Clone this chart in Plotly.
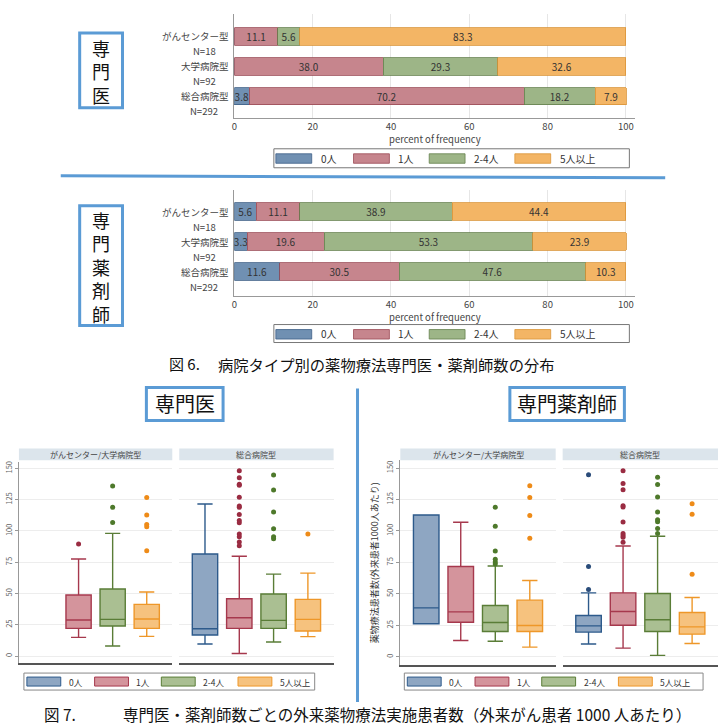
import plotly.graph_objects as go

W, H = 718, 726
FONT = "Noto Sans CJK JP"

# ---------------- data ----------------
categories = ["0人", "1人", "2-4人", "5人以上"]
hospital_types = ["がんセンター型", "大学病院型", "総合病院型"]
n_labels = ["N=18", "N=92", "N=292"]
x_ticks = [0, 20, 40, 60, 80, 100]
y_ticks = [0, 25, 50, 75, 100, 125, 150]
panel_titles = ["がんセンター/大学病院型", "総合病院型"]

# Fig 6 top: 専門医 (percent)
doc_0 = [0.0, 0.0, 3.8]
doc_1 = [11.1, 38.0, 70.2]
doc_24 = [5.6, 29.3, 18.2]
doc_5 = [83.3, 32.6, 7.9]
# Fig 6 bottom: 専門薬剤師 (percent)
ph_0 = [5.6, 3.3, 11.6]
ph_1 = [11.1, 19.6, 30.5]
ph_24 = [38.9, 53.3, 47.6]
ph_5 = [44.4, 23.9, 10.3]

# Fig 7 left: 専門医, がんセンター/大学病院型
doc_cu_low = [None, 14.9, 8.0, 15.7]
doc_cu_q1 = [None, 22.1, 24.0, 22.1]
doc_cu_med = [None, 28.8, 29.3, 29.6]
doc_cu_q3 = [None, 48.8, 53.6, 41.3]
doc_cu_high = [None, 77.5, 98.0, 51.2]
doc_cu_out = [[], [89.5], [135.9, 118.8, 106.8], [126.6, 112.7, 105.2, 103.4, 84.2]]
# Fig 7 left: 専門医, 総合病院型
doc_g_low = [9.6, 2.1, 11.2, 15.5]
doc_g_q1 = [16.8, 22.1, 22.1, 20.0]
doc_g_med = [21.8, 30.6, 28.5, 29.3]
doc_g_q3 = [81.5, 45.8, 49.6, 45.3]
doc_g_high = [121.5, 79.7, 65.5, 66.3]
doc_g_out = [[],
             [148.1, 142.5, 137.2, 136.4, 126.8, 119.9, 118.8, 113.2, 108.4, 106.6, 97.5, 95.4, 91.1, 88.2],
             [144.7, 132.7, 115.1, 101.8, 95.4, 93.8],
             [97.5]]
# Fig 7 right: 専門薬剤師, がんセンター/大学病院型
ph_cu_low = [26.2, 13.0, 12.4, 7.7]
ph_cu_q1 = [26.2, 27.5, 20.1, 20.1]
ph_cu_med = [38.9, 35.7, 27.2, 24.9]
ph_cu_q3 = [112.7, 71.7, 40.7, 45.0]
ph_cu_high = [112.7, 106.9, 72.2, 60.6]
ph_cu_out = [[], [], [118.8, 103.7, 84.1, 77.5, 75.4, 73.8], [136.0, 126.5, 112.2, 94.2]]
# Fig 7 right: 専門薬剤師, 総合病院型
ph_g_low = [10.1, 6.9, 1.1, 10.6]
ph_g_q1 = [19.6, 25.1, 20.1, 18.0]
ph_g_med = [24.6, 36.0, 29.4, 23.8]
ph_g_q3 = [32.8, 50.8, 50.3, 35.2]
ph_g_high = [50.8, 88.1, 95.8, 47.1]
ph_g_out = [[144.7, 71.7, 53.4],
            [147.9, 137.8, 132.8, 120.1, 119.0, 107.1, 97.9, 96.3, 95.0, 91.0],
            [142.6, 137.0, 127.0, 115.1, 109.0, 107.4, 101.9, 97.9],
            [121.7, 113.2, 65.6]]

# ---------------- styles ----------------
bar_colors = ["#7090b2", "#c6858d", "#9db587", "#f3b565"]
bar_lines = ["#3d5f86", "#9a4a55", "#64804c", "#d99437"]
box_fill = ["#8ea6c2", "#d4949c", "#aabf92", "#f6c27e"]
box_line = ["#2d5a8b", "#a6384d", "#5a7d37", "#ee9729"]
out_color = ["#2a4c7a", "#9a2c42", "#4e792b", "#ee8b18"]
BLUE = "#5b9bd5"


def px(x):
    return x / W


def py(y):
    return 1 - y / H


def note(x, y, text, size, color="#333", xanchor="center", yref="paper", yshift=0, **kw):
    d = dict(x=x, xref="paper", y=y, yref=yref, text=text, showarrow=False,
             xanchor=xanchor, yanchor="middle", yshift=yshift,
             font=dict(size=size, color=color, family=FONT))
    d.update(kw)
    return d


fig = go.Figure()
shapes = []
annotations = []

# ---------------- Fig 6 bar charts ----------------
bar_sets = [
    ("x", "y", [doc_0, doc_1, doc_24, doc_5]),
    ("x2", "y2", [ph_0, ph_1, ph_24, ph_5]),
]
for xa, ya, series in bar_sets:
    for i, vals in enumerate(series):
        fig.add_trace(go.Bar(
            x=vals, y=hospital_types, orientation="h",
            marker=dict(color=bar_colors[i], line=dict(color=bar_lines[i], width=0.8)),
            text=[f"{v:.1f}" if v > 0 else "" for v in vals],
            textposition="inside", insidetextanchor="middle", textangle=0,
            textfont=dict(size=10, color="#333", family=FONT),
            showlegend=False, hoverinfo="skip", xaxis=xa, yaxis=ya,
        ))

bar_x_dom = [px(232.3), px(635)]
bar_axes = {
    "1": dict(ytop=13, ybot=117, rng=[2.72, -0.75]),
    "2": dict(ytop=189, ybot=295, rng=[2.8, -0.73]),
}
layout_axes = {}
for k, a in bar_axes.items():
    sfx = "" if k == "1" else k
    layout_axes["xaxis" + sfx] = dict(
        domain=bar_x_dom, anchor="y" + sfx, range=[0, 102.4],
        tickvals=x_ticks, showgrid=True, gridcolor="#e6e6e6", zeroline=False,
        showline=True, linecolor="#999", linewidth=1, ticks="", ticklabelstandoff=0,
        tickfont=dict(size=9.5, color="#444", family=FONT),
    )
    layout_axes["yaxis" + sfx] = dict(
        domain=[py(a["ybot"]), py(a["ytop"])], anchor="x" + sfx, type="category",
        range=a["rng"], showticklabels=False, showgrid=False, zeroline=False,
        showline=True, linecolor="#999", linewidth=1,
    )
    for j, ht in enumerate(hospital_types):
        annotations.append(note(px(229), ht, ht, 9.5, "#444", "right", yref="y" + sfx))
        annotations.append(note(px(202), ht, n_labels[j], 9.5, "#444", "center",
                                yref="y" + sfx, yshift=-15))
    annotations.append(note((bar_x_dom[0] + bar_x_dom[1]) / 2, py(a["ybot"] + 21.5),
                            "percent of frequency", 9.5, "#444", borderpad=0))

# top legends (Fig 6)
for (ytop, ybot) in [(148, 167), (324, 342)]:
    shapes.append(dict(type="rect", xref="paper", yref="paper", layer="below",
                       x0=px(272), x1=px(629), y0=py(ybot), y1=py(ytop),
                       line=dict(color="#777", width=1), fillcolor="white"))
    sw_x = [274, 352, 428, 514]
    for i, c in enumerate(categories):
        shapes.append(dict(type="rect", xref="paper", yref="paper",
                           x0=px(sw_x[i]), x1=px(sw_x[i] + 36),
                           y0=py(ytop + 14.5), y1=py(ytop + 5),
                           fillcolor=bar_colors[i], line=dict(color=bar_lines[i], width=0.8)))
        annotations.append(note(px(sw_x[i] + 43), py((ytop + ybot) / 2), c, 10, "#333", "left"))

# vertical title boxes (Fig 6)
for (y0, y1, label) in [(32, 107, "専門医"), (205, 325, "専門薬剤師")]:
    shapes.append(dict(type="rect", xref="paper", yref="paper", layer="below",
                       x0=px(77), x1=px(120), y0=py(y1), y1=py(y0),
                       line=dict(color=BLUE, width=3), fillcolor="white"))
    annotations.append(note(px(98.5), py((y0 + y1) / 2 + 1), "<br>".join(label), 18, "#111",
                            borderpad=0))

# separator line
shapes.append(dict(type="line", xref="paper", yref="paper",
                   x0=px(58), x1=px(665), y0=py(175), y1=py(177),
                   line=dict(color=BLUE, width=3)))

# caption Fig 6
annotations.append(note(px(165), py(363), "図 6.", 15, "#111", "left"))
annotations.append(note(px(214), py(363), "病院タイプ別の薬物療法専門医・薬剤師数の分布",
                        15.3, "#111", "left"))

# ---------------- Fig 7 box plots ----------------
panels = [
    ("x3", "y3", [16, 170], (461.7, 663), [-5.6, 155],
     doc_cu_low, doc_cu_q1, doc_cu_med, doc_cu_q3, doc_cu_high, doc_cu_out, True),
    ("x4", "y4", [177, 332], (461.7, 663), [-5.6, 155],
     doc_g_low, doc_g_q1, doc_g_med, doc_g_q3, doc_g_high, doc_g_out, False),
    ("x5", "y5", [399, 555], (460, 665), [-6.6, 156.1],
     ph_cu_low, ph_cu_q1, ph_cu_med, ph_cu_q3, ph_cu_high, ph_cu_out, True),
    ("x6", "y6", [562, 718], (460, 665), [-6.6, 156.1],
     ph_g_low, ph_g_q1, ph_g_med, ph_g_q3, ph_g_high, ph_g_out, False),
]
for pi, (xa, ya, xd, yd, yr, lo, q1, med, q3, hi, outl, first) in enumerate(panels):
    for i, c in enumerate(categories):
        if q1[i] is not None:
            fig.add_trace(go.Box(
                x=[c], q1=[q1[i]], median=[med[i]], q3=[q3[i]],
                lowerfence=[lo[i]], upperfence=[hi[i]],
                fillcolor=box_fill[i], line=dict(color=box_line[i], width=1.4),
                width=0.74, whiskerwidth=0.6, boxpoints=False,
                showlegend=False, hoverinfo="skip", xaxis=xa, yaxis=ya,
            ))
        if outl[i]:
            fig.add_trace(go.Scatter(
                x=[c] * len(outl[i]), y=outl[i], mode="markers",
                marker=dict(color=out_color[i], size=5),
                showlegend=False, hoverinfo="skip", xaxis=xa, yaxis=ya,
            ))
    n = xa[1:]
    layout_axes["xaxis" + n] = dict(
        domain=[px(xd[0]), px(xd[1])], anchor=ya, type="category",
        categoryorder="array", categoryarray=categories, range=[-0.75, 3.75],
        showticklabels=False, showgrid=False, zeroline=False, ticks="",
        showline=True, linecolor="#555", linewidth=1.6,
    )
    ydict = dict(
        domain=[py(yd[1]), py(yd[0])], anchor=xa, range=yr, tickvals=y_ticks,
        showgrid=True, gridcolor="#ededed", gridwidth=1, zeroline=False,
        showticklabels=first, tickangle=-90,
        tickfont=dict(size=7.5, color="#666", family=FONT),
        showline=first, linecolor="#999", linewidth=1,
        ticks="outside" if first else "", ticklen=3, tickcolor="#999",
    )
    if pi == 2:
        ydict["title"] = dict(text="薬物療法患者数(外来患者1000人あたり)",
                              font=dict(size=9, color="#333", family=FONT), standoff=4)
    layout_axes["yaxis" + n] = ydict
    shapes.append(dict(type="rect", xref="paper", yref="paper",
                       x0=px(xd[0]), x1=px(xd[1]), y0=py(460), y1=py(448),
                       fillcolor="#dce5ec", line=dict(width=0)))
    annotations.append(note(px((xd[0] + xd[1]) / 2), py(454),
                            panel_titles[0] if first else panel_titles[1], 8, "#444"))

# bottom legends (Fig 7)
for (bx0, bx1) in [(21, 313), (403, 703)]:
    shapes.append(dict(type="rect", xref="paper", yref="paper", layer="below",
                       x0=px(bx0), x1=px(bx1), y0=py(690), y1=py(673),
                       line=dict(color="#888", width=1), fillcolor="white"))
    offs = [3, 71, 138, 215]
    for i, c in enumerate(categories):
        sx = bx0 + offs[i]
        shapes.append(dict(type="rect", xref="paper", yref="paper",
                           x0=px(sx), x1=px(sx + 34), y0=py(686), y1=py(677),
                           fillcolor=box_fill[i], line=dict(color=box_line[i], width=1)))
        annotations.append(note(px(sx + 40), py(681.5), c, 8.5, "#333", "left"))

# title boxes Fig 7
for (x0, x1, label) in [(144, 221, "専門医"), (509, 624, "専門薬剤師")]:
    shapes.append(dict(type="rect", xref="paper", yref="paper", layer="below",
                       x0=px(x0), x1=px(x1), y0=py(420), y1=py(387),
                       line=dict(color=BLUE, width=3), fillcolor="white"))
    annotations.append(note(px((x0 + x1) / 2), py(403.5), label, 20, "#111"))

# vertical divider
shapes.append(dict(type="line", xref="paper", yref="paper",
                   x0=px(356), x1=px(356), y0=py(388), y1=py(702),
                   line=dict(color=BLUE, width=3)))

# caption Fig 7
annotations.append(note(px(40), py(713.5), "図 7.", 15.5, "#111", "left", borderpad=0))
annotations.append(note(px(120), py(713.5),
                        "専門医・薬剤師数ごとの外来薬物療法実施患者数（外来がん患者 1000 人あたり）",
                        15.5, "#111", "left", borderpad=0))

fig.update_layout(
    width=W, height=H, margin=dict(l=0, r=0, t=0, b=0),
    paper_bgcolor="white", plot_bgcolor="white",
    barmode="stack", bargap=0.42, boxmode="overlay",
    uniformtext=dict(minsize=10, mode="show"),
    font=dict(family=FONT),
    shapes=shapes, annotations=annotations,
    **layout_axes,
)

fig.write_html("out.html")
